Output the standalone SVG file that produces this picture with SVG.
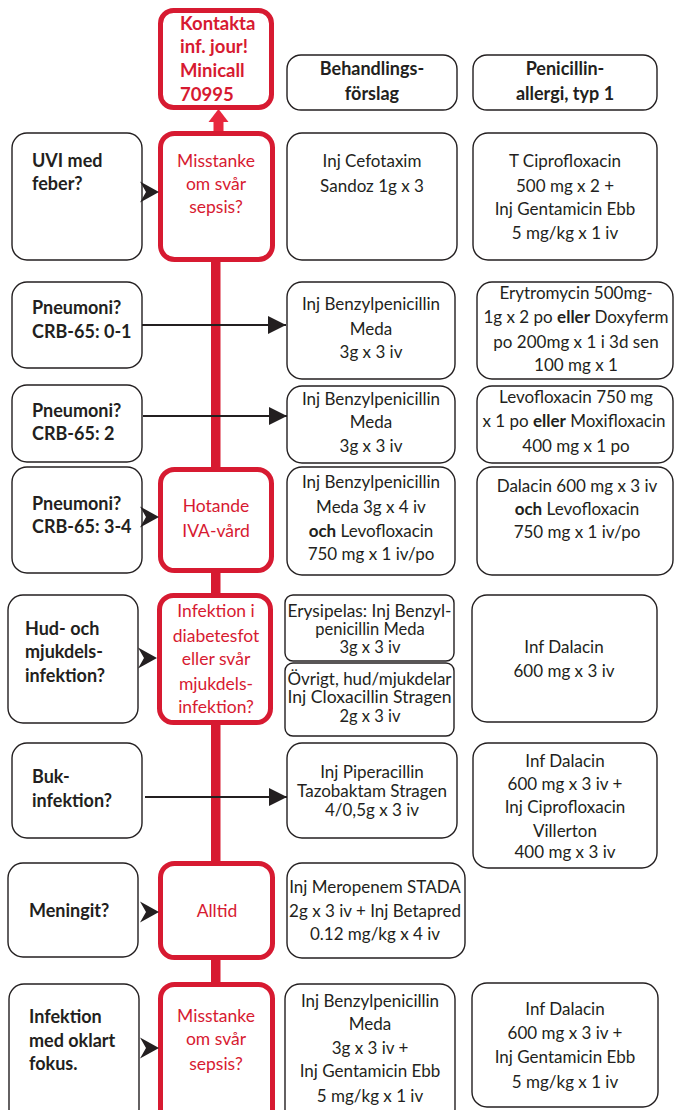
<svg xmlns="http://www.w3.org/2000/svg" width="675" height="1110" viewBox="0 0 675 1110">
<style>
.box{fill:#fff;stroke:#231f20;stroke-width:1.4}
.red{fill:#fff;stroke:#d71a31;stroke-width:5}
.t{font-family:Lato,"Open Sans",sans-serif;font-size:17px;fill:#231f20;text-anchor:middle}
.s{font-family:Lato,"Open Sans",sans-serif;font-size:16.5px;fill:#231f20;text-anchor:middle}
.b{font-family:Lato,"Open Sans",sans-serif;font-size:18px;font-weight:bold;fill:#231f20}
.rt{font-family:Lato,"Open Sans",sans-serif;font-size:17.5px;fill:#d71a31;text-anchor:middle}
.rb{font-family:Lato,"Open Sans",sans-serif;font-size:18.5px;font-weight:bold;fill:#d71a31}
.ln{stroke:#231f20;stroke-width:2;fill:none}
.chev{fill:#231f20}
</style>
<defs>
<marker id="ah" markerUnits="userSpaceOnUse" markerWidth="18" markerHeight="18" refX="18" refY="9" orient="auto">
<path d="M0,0 L18,9 L0,18 Z" fill="#231f20"/>
</marker>
<path id="cv" d="M-19,-10.5 L0,0 L-19,10.5 L-13,0 Z"/>
</defs>

<rect x="211" y="255" width="9.5" height="860" fill="#d71a31"/>
<g id="uparrow">
<rect x="213.5" y="119" width="10" height="14" fill="#e8283e"/>
<polygon points="208.5,122 218.5,109 228.5,122" fill="#e8283e"/>
</g>

<g id="kontakta"><rect class="red" x="160.5" y="10.5" width="111" height="97" rx="13"/>
<text class="rb" x="180" y="30">Kontakta</text><text class="rb" x="180" y="53">inf. jour!</text><text class="rb" x="180" y="77">Minicall</text><text class="rb" x="180" y="101">70995</text></g>

<g id="hdr1"><rect class="box" x="287" y="55" width="170" height="55" rx="14"/>
<text class="b" text-anchor="middle" x="372" y="75">Behandlings-</text><text class="b" text-anchor="middle" x="372" y="100">förslag</text></g>
<g id="hdr2"><rect class="box" x="473" y="55" width="184" height="55" rx="14"/>
<text class="b" text-anchor="middle" x="565" y="75">Penicillin-</text><text class="b" text-anchor="middle" x="565" y="100">allergi, typ 1</text></g>

<!-- row 1 -->
<g id="uvi"><rect class="box" x="12" y="133" width="130" height="127" rx="15"/>
<text class="b" x="32" y="167">UVI med</text><text class="b" x="32" y="190">feber?</text></g>
<g id="sepsis1"><rect class="red" x="160.5" y="133.5" width="112" height="126" rx="14"/>
<text class="rt" x="216" y="167">Misstanke</text><text class="rt" x="216" y="190">om svår</text><text class="rt" x="216" y="213">sepsis?</text></g>
<g id="cefotaxim"><rect class="box" x="287" y="133" width="170" height="127" rx="15"/>
<text class="t" x="372" y="167">Inj Cefotaxim</text><text class="t" x="372" y="192">Sandoz 1g x 3</text></g>
<g id="cipro"><rect class="box" x="473" y="133" width="184" height="127" rx="15"/>
<text class="t" x="565" y="167">T Ciprofloxacin</text><text class="t" x="565" y="192">500 mg x 2 +</text><text class="t" x="565" y="215">Inj Gentamicin Ebb</text><text class="t" x="565" y="239">5 mg/kg x 1 iv</text></g>

<!-- row 2 -->
<g id="pn01"><rect class="box" x="12" y="282" width="130" height="86" rx="15"/>
<text class="b" x="32" y="314">Pneumoni?</text><text class="b" x="32" y="338">CRB-65: 0-1</text></g>
<g id="benz1"><rect class="box" x="287" y="282" width="168" height="97" rx="15"/>
<text class="t" x="371" y="310">Inj Benzylpenicillin</text><text class="t" x="371" y="335">Meda</text><text class="t" x="371" y="358">3g x 3 iv</text></g>
<g id="erytro"><rect class="box" x="477" y="282" width="196" height="97" rx="15"/>
<text class="t" x="576" y="299">Erytromycin 500mg-</text><text class="t" x="576" y="323">1g x 2 po <tspan font-weight="bold">eller</tspan> Doxyferm</text><text class="t" x="576" y="348">po 200mg x 1 i 3d sen</text><text class="t" x="576" y="371">100 mg x 1</text></g>

<!-- row 3 -->
<g id="pn2"><rect class="box" x="12" y="385" width="130" height="77" rx="15"/>
<text class="b" x="32" y="417">Pneumoni?</text><text class="b" x="32" y="440">CRB-65: 2</text></g>
<g id="benz2"><rect class="box" x="287" y="386" width="168" height="77" rx="15"/>
<text class="t" x="371" y="405">Inj Benzylpenicillin</text><text class="t" x="371" y="428">Meda</text><text class="t" x="371" y="452">3g x 3 iv</text></g>
<g id="levo"><rect class="box" x="477" y="386" width="196" height="77" rx="15"/>
<text class="t" x="576" y="403">Levofloxacin 750 mg</text><text class="t" x="574" y="427">x 1 po <tspan font-weight="bold">eller</tspan> Moxifloxacin</text><text class="t" x="576" y="452">400 mg x 1 po</text></g>

<!-- row 4 -->
<g id="pn34"><rect class="box" x="12" y="467" width="130" height="106" rx="15"/>
<text class="b" x="32" y="510">Pneumoni?</text><text class="b" x="32" y="533">CRB-65: 3-4</text></g>
<g id="iva"><rect class="red" x="160.5" y="469.5" width="111" height="101" rx="14"/>
<text class="rt" x="216" y="512">Hotande</text><text class="rt" x="216" y="537">IVA-vård</text></g>
<g id="benz3"><rect class="box" x="287" y="467" width="168" height="108" rx="15"/>
<text class="t" x="371" y="488">Inj Benzylpenicillin</text><text class="t" x="371" y="513">Meda 3g x 4 iv</text><text class="t" x="371" y="537"><tspan font-weight="bold">och</tspan> Levofloxacin</text><text class="t" x="371" y="560">750 mg x 1 iv/po</text></g>
<g id="dalacin1"><rect class="box" x="477" y="467" width="196" height="108" rx="15"/>
<text class="t" x="577" y="492">Dalacin 600 mg x 3 iv</text><text class="t" x="577" y="515"><tspan font-weight="bold">och</tspan> Levofloxacin</text><text class="t" x="577" y="538">750 mg x 1 iv/po</text></g>

<!-- row 5 -->
<g id="hud"><rect class="box" x="8" y="595" width="130" height="128" rx="15"/>
<text class="b" x="25" y="635">Hud- och</text><text class="b" x="25" y="658">mjukdels-</text><text class="b" x="25" y="682">infektion?</text></g>
<g id="diabetes"><rect class="red" x="159.5" y="595.5" width="111" height="127" rx="14"/>
<text class="rt" x="216" y="617">Infektion i</text><text class="rt" x="216" y="642">diabetesfot</text><text class="rt" x="216" y="665">eller svår</text><text class="rt" x="216" y="690">mjukdels-</text><text class="rt" x="216" y="713">infektion?</text></g>
<g id="erysipelas"><rect class="box" x="285" y="595" width="169" height="66" rx="8"/>
<text class="s" x="369.5" y="617" textLength="164" lengthAdjust="spacingAndGlyphs">Erysipelas: Inj Benzyl-</text><text class="s" x="370" y="635">penicillin Meda</text><text class="s" x="370" y="653">3g x 3 iv</text></g>
<g id="ovrigt"><rect class="box" x="285" y="663" width="169" height="73" rx="8"/>
<text class="s" x="369.5" y="685" textLength="164" lengthAdjust="spacingAndGlyphs">Övrigt, hud/mjukdelar</text><text class="s" x="369.5" y="703" textLength="164" lengthAdjust="spacingAndGlyphs">Inj Cloxacillin Stragen</text><text class="s" x="370" y="722">2g x 3 iv</text></g>
<g id="dalacin2"><rect class="box" x="472" y="595" width="185" height="127" rx="15"/>
<text class="t" x="564" y="653">Inf Dalacin</text><text class="t" x="564" y="677">600 mg x 3 iv</text></g>

<!-- row 6 -->
<g id="buk"><rect class="box" x="12" y="743" width="130" height="95" rx="15"/>
<text class="b" x="32" y="783">Buk-</text><text class="b" x="32" y="807">infektion?</text></g>
<g id="pip"><rect class="box" x="287" y="743" width="170" height="95" rx="15"/>
<text class="t" x="372" y="778">Inj Piperacillin</text><text class="t" x="372" y="797">Tazobaktam Stragen</text><text class="t" x="372" y="816">4/0,5g x 3 iv</text></g>
<g id="dalacin3"><rect class="box" x="473" y="743" width="184" height="125" rx="15"/>
<text class="t" x="565" y="767">Inf Dalacin</text><text class="t" x="565" y="790">600 mg x 3 iv +</text><text class="t" x="565" y="813">Inj Ciprofloxacin</text><text class="t" x="565" y="837">Villerton</text><text class="t" x="565" y="858">400 mg x 3 iv</text></g>

<!-- row 7 -->
<g id="meningit"><rect class="box" x="8" y="863" width="130" height="94" rx="15"/>
<text class="b" x="29" y="917">Meningit?</text></g>
<g id="alltid"><rect class="red" x="160.5" y="863.5" width="112" height="94" rx="14"/>
<text class="rt" x="217" y="917">Alltid</text></g>
<g id="meropenem"><rect class="box" x="287" y="863" width="178" height="95" rx="15"/>
<text class="t" x="375" y="893">Inj Meropenem STADA</text><text class="t" x="375" y="917">2g x 3 iv + Inj Betapred</text><text class="t" x="375" y="940">0.12 mg/kg x 4 iv</text></g>

<!-- row 8 -->
<g id="oklart"><rect class="box" x="9" y="984" width="130" height="140" rx="15"/>
<text class="b" x="29" y="1023">Infektion</text><text class="b" x="29" y="1047">med oklart</text><text class="b" x="29" y="1070">fokus.</text></g>
<g id="sepsis2"><rect class="red" x="160.5" y="984.5" width="112" height="140" rx="14"/>
<text class="rt" x="216" y="1022">Misstanke</text><text class="rt" x="216" y="1045">om svår</text><text class="rt" x="216" y="1070">sepsis?</text></g>
<g id="benz4"><rect class="box" x="285" y="984" width="170" height="140" rx="15"/>
<text class="t" x="370" y="1007">Inj Benzylpenicillin</text><text class="t" x="370" y="1030">Meda</text><text class="t" x="370" y="1054">3g x 3 iv +</text><text class="t" x="370" y="1077">Inj Gentamicin Ebb</text><text class="t" x="370" y="1102">5 mg/kg x 1 iv</text></g>
<g id="dalacin4"><rect class="box" x="472" y="983" width="186" height="124" rx="15"/>
<text class="t" x="565" y="1015">Inf Dalacin</text><text class="t" x="565" y="1039">600 mg x 3 iv +</text><text class="t" x="565" y="1063">Inj Gentamicin Ebb</text><text class="t" x="565" y="1088">5 mg/kg x 1 iv</text></g>

<g id="connectors">
<line class="ln" x1="142" y1="325" x2="286" y2="325" marker-end="url(#ah)"/>
<line class="ln" x1="143" y1="416" x2="287" y2="416" marker-end="url(#ah)"/>
<line class="ln" x1="145" y1="797" x2="287" y2="797" marker-end="url(#ah)"/>
<use href="#cv" class="chev" x="159" y="192"/>
<use href="#cv" class="chev" x="159" y="517"/>
<use href="#cv" class="chev" x="157" y="658"/>
<use href="#cv" class="chev" x="159" y="912"/>
<use href="#cv" class="chev" x="159" y="1048"/>
</g>
</svg>
